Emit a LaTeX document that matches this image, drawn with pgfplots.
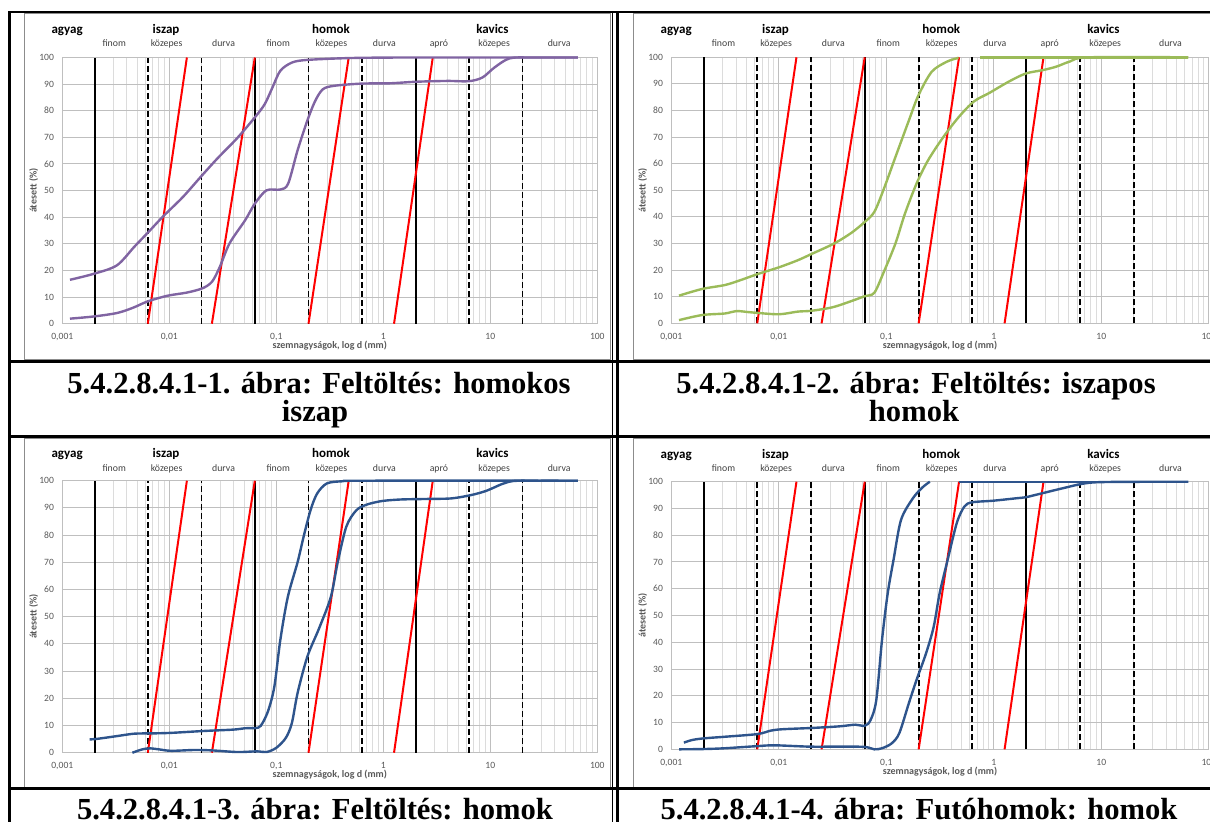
\documentclass[border=0pt]{standalone}
\usepackage{pgfplots}
\pgfplotsset{compat=1.18}
\usepackage{fontspec}
\setmainfont{Liberation Serif}
\newfontfamily\chartfont{Carlito}

\definecolor{gridmajor}{RGB}{191,191,191}
\definecolor{gridminor}{RGB}{220,220,220}
\definecolor{framegray}{RGB}{140,140,140}
\definecolor{labelgray}{RGB}{89,89,89}
\definecolor{subgray}{RGB}{64,64,64}
\definecolor{curvepurple}{RGB}{128,100,162}
\definecolor{curvegreen}{RGB}{155,187,89}
\definecolor{curveblue}{RGB}{46,84,140}

\newcommand{\grpfont}{\chartfont\bfseries\fontsize{6.5pt}{7pt}\selectfont}
\newcommand{\subfont}{\chartfont\fontsize{4.9pt}{6pt}\selectfont}
\newcommand{\tickfont}{\chartfont\fontsize{4.8pt}{5.5pt}\selectfont}
\newcommand{\titlefont}{\chartfont\bfseries\fontsize{5pt}{6pt}\selectfont}
\newcommand{\capfont}{\bfseries\fontsize{15.3pt}{15.3pt}\selectfont}

% soil class boundaries and the reference lines of the fractions
\newcommand{\classlines}{%
  \addplot[black, line width=1pt] coordinates {(0.002,0) (0.002,100)};
  \addplot[black, line width=1pt] coordinates {(0.063,0) (0.063,100)};
  \addplot[black, line width=1pt] coordinates {(2,0) (2,100)};
  \addplot[black, line width=0.9pt, dash pattern=on 3pt off 1.5pt] coordinates {(0.0063,0) (0.0063,100)};
  \addplot[black, line width=0.9pt, dash pattern=on 3pt off 1.5pt] coordinates {(0.02,0) (0.02,100)};
  \addplot[black, line width=0.9pt, dash pattern=on 3pt off 1.5pt] coordinates {(0.2,0) (0.2,100)};
  \addplot[black, line width=0.9pt, dash pattern=on 3pt off 1.5pt] coordinates {(0.63,0) (0.63,100)};
  \addplot[black, line width=0.9pt, dash pattern=on 3pt off 1.5pt] coordinates {(6.3,0) (6.3,100)};
  \addplot[black, line width=0.9pt, dash pattern=on 3pt off 1.5pt] coordinates {(20,0) (20,100)};
  \addplot[red, line width=1pt] coordinates {(0.0063,0) (0.0146,100)};
  \addplot[red, line width=1pt] coordinates {(0.025,0) (0.063,100)};
  \addplot[red, line width=1pt] coordinates {(0.2,0) (0.475,100)};
  \addplot[red, line width=1pt] coordinates {(1.26,0) (2.9,100)};
}

% fraction names above the plot area
\newcommand{\zonelabels}[2]{%
  \node[anchor=base, inner sep=0pt, font=\grpfont, yshift=#1] at (rel axis cs:0.009,1) {agyag};
  \node[anchor=base, inner sep=0pt, font=\grpfont, yshift=#1] at (rel axis cs:0.194,1) {iszap};
  \node[anchor=base, inner sep=0pt, font=\grpfont, yshift=#1] at (rel axis cs:0.5024,1) {homok};
  \node[anchor=base, inner sep=0pt, font=\grpfont, yshift=#1] at (rel axis cs:0.804,1) {kavics};
  \node[anchor=base, inner sep=0pt, font=\subfont, text=subgray, yshift=#2] at (rel axis cs:0.097,1) {finom};
  \node[anchor=base, inner sep=0pt, font=\subfont, text=subgray, yshift=#2] at (rel axis cs:0.195,1) {közepes};
  \node[anchor=base, inner sep=0pt, font=\subfont, text=subgray, yshift=#2] at (rel axis cs:0.3014,1) {durva};
  \node[anchor=base, inner sep=0pt, font=\subfont, text=subgray, yshift=#2] at (rel axis cs:0.4036,1) {finom};
  \node[anchor=base, inner sep=0pt, font=\subfont, text=subgray, yshift=#2] at (rel axis cs:0.503,1) {közepes};
  \node[anchor=base, inner sep=0pt, font=\subfont, text=subgray, yshift=#2] at (rel axis cs:0.602,1) {durva};
  \node[anchor=base, inner sep=0pt, font=\subfont, text=subgray, yshift=#2] at (rel axis cs:0.704,1) {apró};
  \node[anchor=base, inner sep=0pt, font=\subfont, text=subgray, yshift=#2] at (rel axis cs:0.8072,1) {közepes};
  \node[anchor=base, inner sep=0pt, font=\subfont, text=subgray, yshift=#2] at (rel axis cs:0.9288,1) {durva};
}

\begin{document}
\begin{tikzpicture}
\useasboundingbox (0pt,0pt) rectangle (605pt,-410.5pt);
\clip (0pt,0pt) rectangle (605pt,-410.5pt);

% chart frames
\draw[framegray, line width=0.5pt] (12pt,-6.75pt) rectangle (305pt,-179.5pt);
\draw[framegray, line width=0.5pt] (316.5pt,-6.75pt) rectangle (615pt,-179.5pt);
\draw[framegray, line width=0.5pt] (12pt,-219.25pt) rectangle (305pt,-393.5pt);
\draw[framegray, line width=0.5pt] (316.5pt,-219.25pt) rectangle (615pt,-393.5pt);

% 1: homokos iszap
\begin{axis}[at={(31.15pt,-161.85pt)}, anchor=south west, width=267.5pt, height=133.1pt,
    scale only axis, xmode=log, xmin=0.001, xmax=100, ymin=0, ymax=100,
    xtick={0.001,0.01,0.1,1,10,100}, xticklabels={{0,001},{0,01},{0,1},1,10,100},
    minor xtick={0.002,0.003,0.004,0.005,0.006,0.007,0.008,0.009,0.02,0.03,0.04,0.05,0.06,0.07,0.08,0.09,0.2,0.3,0.4,0.5,0.6,0.7,0.8,0.9,2,3,4,5,6,7,8,9,20,30,40,50,60,70,80,90},
    ytick={0,10,20,30,40,50,60,70,80,90,100}, yticklabels={0,10,20,30,40,50,60,70,80,90,100},
    grid=both, major grid style={draw=gridmajor, line width=0.5pt},
    minor grid style={draw=gridminor, line width=0.5pt},
    axis line style={draw=gridmajor, line width=0.5pt},
    major tick length=0pt, minor tick length=0pt,
    tick label style={font=\tickfont, text=labelgray},
    xticklabel style={anchor=base, yshift=-8pt, inner sep=0pt},
    yticklabel style={anchor=east, xshift=-4pt, inner sep=0pt},
    xlabel={szemnagyságok, log d (mm)}, ylabel={átesett (\%)},
    xlabel style={font=\titlefont, text=labelgray, at={(axis description cs:0.5,0)}, anchor=base, yshift=-12.4pt, inner sep=0pt},
    ylabel style={font=\titlefont, text=labelgray, at={(axis description cs:-0.0535,0.5)}, anchor=center, inner sep=0pt},
    clip=false]
\classlines
\addplot[curvepurple, line width=1.2pt, smooth] coordinates {
 (0.00118,16.5) (0.00195,18.7) (0.00323,21.9) (0.00471,28.9) (0.0063,34.2)
 (0.0088,40.4) (0.0134,47.6) (0.0199,55.4) (0.0285,62.3) (0.0433,69.8)
 (0.063,77.5) (0.078,82.5) (0.092,88.7) (0.109,95) (0.14,98.1) (0.195,99.1)
 (0.49,99.8) (1.5,100) (10,100) (65.8,100)};
\addplot[curvepurple, line width=1.2pt, smooth] coordinates {
 (0.00118,1.9) (0.00195,2.7) (0.00323,4.0) (0.00452,5.9) (0.0063,8.4)
 (0.0096,10.5) (0.0146,11.7) (0.0204,13.3) (0.0251,15.8) (0.0297,21.4)
 (0.0366,30.2) (0.0512,38.9) (0.063,45.1) (0.081,50.1) (0.109,50.4)
 (0.129,52.6) (0.158,65.1) (0.195,76.3) (0.231,83.7) (0.273,88.1)
 (0.351,89.4) (0.63,90.2) (1.135,90.3) (2.04,90.9) (3.98,91.2) (6.3,91.1)
 (8.45,92.5) (10.9,96.2) (15.2,99.7) (25,100) (65.8,100)};
\zonelabels{11.9pt}{5.5pt}
\end{axis}

% 2: iszapos homok
\begin{axis}[at={(335.65pt,-161.65pt)}, anchor=south west, width=268.75pt, height=133pt,
    scale only axis, xmode=log, xmin=0.001, xmax=100, ymin=0, ymax=100,
    xtick={0.001,0.01,0.1,1,10,100}, xticklabels={{0,001},{0,01},{0,1},1,10,100},
    minor xtick={0.002,0.003,0.004,0.005,0.006,0.007,0.008,0.009,0.02,0.03,0.04,0.05,0.06,0.07,0.08,0.09,0.2,0.3,0.4,0.5,0.6,0.7,0.8,0.9,2,3,4,5,6,7,8,9,20,30,40,50,60,70,80,90},
    ytick={0,10,20,30,40,50,60,70,80,90,100}, yticklabels={0,10,20,30,40,50,60,70,80,90,100},
    grid=both, major grid style={draw=gridmajor, line width=0.5pt},
    minor grid style={draw=gridminor, line width=0.5pt},
    axis line style={draw=gridmajor, line width=0.5pt},
    major tick length=0pt, minor tick length=0pt,
    tick label style={font=\tickfont, text=labelgray},
    xticklabel style={anchor=base, yshift=-8pt, inner sep=0pt},
    yticklabel style={anchor=east, xshift=-4pt, inner sep=0pt},
    xlabel={szemnagyságok, log d (mm)}, ylabel={átesett (\%)},
    xlabel style={font=\titlefont, text=labelgray, at={(axis description cs:0.5,0)}, anchor=base, yshift=-12.4pt, inner sep=0pt},
    ylabel style={font=\titlefont, text=labelgray, at={(axis description cs:-0.0535,0.5)}, anchor=center, inner sep=0pt},
    clip=false]
\classlines
\addplot[curvegreen, line width=1.2pt, smooth] coordinates {
 (0.00118,10.4) (0.00193,12.9) (0.00316,14.4) (0.00438,16.2) (0.00634,18.5)
 (0.00995,21) (0.015,23.7) (0.02,26) (0.0327,30) (0.0473,34) (0.063,38.1)
 (0.0774,41.9) (0.095,50.6) (0.1216,62.5) (0.162,76.2) (0.199,85.7)
 (0.265,94.6) (0.368,98.4) (0.47,99.8)};
\addplot[curvegreen, line width=1.2pt] coordinates {(0.75,100) (64,100)};
\addplot[curvegreen, line width=1.2pt, smooth] coordinates {
 (0.00118,1.2) (0.00193,3.1) (0.00316,3.7) (0.00404,4.6) (0.0056,4.1)
 (0.00995,3.4) (0.015,4.4) (0.02,4.7) (0.0314,6) (0.0454,8.1) (0.063,10.2)
 (0.0774,11.5) (0.095,19.4) (0.1216,30) (0.149,41.2) (0.191,52.5)
 (0.244,61.2) (0.339,70) (0.471,77.5) (0.653,83.4) (0.908,86.6) (1.37,90.8)
 (1.98,93.9) (2.87,95.2) (3.82,96.5) (5.09,98.4) (7.66,100) (64.7,100)};
\zonelabels{11.9pt}{5.5pt}
\end{axis}

% 3: homok
\begin{axis}[at={(31.15pt,-376.35pt)}, anchor=south west, width=267.5pt, height=136pt,
    scale only axis, xmode=log, xmin=0.001, xmax=100, ymin=0, ymax=100,
    xtick={0.001,0.01,0.1,1,10,100}, xticklabels={{0,001},{0,01},{0,1},1,10,100},
    minor xtick={0.002,0.003,0.004,0.005,0.006,0.007,0.008,0.009,0.02,0.03,0.04,0.05,0.06,0.07,0.08,0.09,0.2,0.3,0.4,0.5,0.6,0.7,0.8,0.9,2,3,4,5,6,7,8,9,20,30,40,50,60,70,80,90},
    ytick={0,10,20,30,40,50,60,70,80,90,100}, yticklabels={0,10,20,30,40,50,60,70,80,90,100},
    grid=both, major grid style={draw=gridmajor, line width=0.5pt},
    minor grid style={draw=gridminor, line width=0.5pt},
    axis line style={draw=gridmajor, line width=0.5pt},
    major tick length=0pt, minor tick length=0pt,
    tick label style={font=\tickfont, text=labelgray},
    xticklabel style={anchor=base, yshift=-8pt, inner sep=0pt},
    yticklabel style={anchor=east, xshift=-4pt, inner sep=0pt},
    xlabel={szemnagyságok, log d (mm)}, ylabel={átesett (\%)},
    xlabel style={font=\titlefont, text=labelgray, at={(axis description cs:0.5,0)}, anchor=base, yshift=-12.4pt, inner sep=0pt},
    ylabel style={font=\titlefont, text=labelgray, at={(axis description cs:-0.0535,0.5)}, anchor=center, inner sep=0pt},
    clip=false]
\classlines
\addplot[curveblue, line width=1.2pt, smooth] coordinates {
 (0.0018,4.9) (0.00212,5.1) (0.00323,6.1) (0.00471,7.0) (0.00686,7.1)
 (0.0104,7.3) (0.0212,8.0) (0.0398,8.5) (0.0512,9.0) (0.0675,9.2)
 (0.0746,11) (0.0846,15.8) (0.096,24.4) (0.109,41.4) (0.128,57.2)
 (0.158,70) (0.18,79.4) (0.209,89.2) (0.241,95.3) (0.297,99) (0.415,99.8)
 (0.686,100) (65.8,100)};
\addplot[curveblue, line width=1.2pt, smooth] coordinates {
 (0.00452,0) (0.00556,1.2) (0.00658,1.6) (0.00811,1.2) (0.0104,0.7)
 (0.0172,1.0) (0.0251,0.85) (0.0433,0.25) (0.0658,0.5) (0.081,0.25)
 (0.1,1.8) (0.123,5.5) (0.14,11) (0.158,21.9) (0.195,35.3) (0.251,45.7)
 (0.323,57.2) (0.375,70) (0.451,83.1) (0.556,89) (0.686,91.1) (0.96,92.5)
 (1.46,93.1) (2.62,93.3) (4.33,93.5) (6.58,94.7) (9.2,96.3) (12.9,98.8)
 (16.5,99.9) (25,100) (65.8,100)};
\zonelabels{11.4pt}{4.8pt}
\end{axis}

% 4: futóhomok
\begin{axis}[at={(335.65pt,-374.65pt)}, anchor=south west, width=268.75pt, height=133.8pt,
    scale only axis, xmode=log, xmin=0.001, xmax=100, ymin=0, ymax=100,
    xtick={0.001,0.01,0.1,1,10,100}, xticklabels={{0,001},{0,01},{0,1},1,10,100},
    minor xtick={0.002,0.003,0.004,0.005,0.006,0.007,0.008,0.009,0.02,0.03,0.04,0.05,0.06,0.07,0.08,0.09,0.2,0.3,0.4,0.5,0.6,0.7,0.8,0.9,2,3,4,5,6,7,8,9,20,30,40,50,60,70,80,90},
    ytick={0,10,20,30,40,50,60,70,80,90,100}, yticklabels={0,10,20,30,40,50,60,70,80,90,100},
    grid=both, major grid style={draw=gridmajor, line width=0.5pt},
    minor grid style={draw=gridminor, line width=0.5pt},
    axis line style={draw=gridmajor, line width=0.5pt},
    major tick length=0pt, minor tick length=0pt,
    tick label style={font=\tickfont, text=labelgray},
    xticklabel style={anchor=base, yshift=-8pt, inner sep=0pt},
    yticklabel style={anchor=east, xshift=-4pt, inner sep=0pt},
    xlabel={szemnagyságok, log d (mm)}, ylabel={átesett (\%)},
    xlabel style={font=\titlefont, text=labelgray, at={(axis description cs:0.5,0)}, anchor=base, yshift=-12.4pt, inner sep=0pt},
    ylabel style={font=\titlefont, text=labelgray, at={(axis description cs:-0.0535,0.5)}, anchor=center, inner sep=0pt},
    clip=false]
\classlines
\addplot[curveblue, line width=1.2pt, smooth] coordinates {
 (0.00131,2.5) (0.00157,3.5) (0.00201,4.1) (0.00316,4.7) (0.00634,5.7)
 (0.00845,7) (0.0108,7.5) (0.0208,8) (0.037,8.6) (0.0514,9.2) (0.063,8.8)
 (0.0713,10.9) (0.0807,18.4) (0.0912,40.8) (0.103,58.2) (0.117,71)
 (0.137,85.7) (0.176,93.7) (0.216,97.8) (0.254,100)};
\addplot[curveblue, line width=1.2pt] coordinates {(0.47,100) (64.7,100)};
\addplot[curveblue, line width=1.2pt, smooth] coordinates {
 (0.00118,0) (0.002,0.1) (0.00316,0.4) (0.00634,1.2) (0.00916,1.5)
 (0.0192,1.0) (0.037,1.0) (0.063,0.9) (0.0774,0) (0.0912,0.4) (0.112,2.2)
 (0.132,6) (0.162,17.2) (0.191,25.9) (0.234,35.8) (0.276,45.8) (0.313,58.2)
 (0.368,70) (0.452,84.5) (0.532,90.7) (0.628,92.3) (0.986,92.9) (1.61,93.8)
 (1.98,94.2) (2.64,95.4) (4.32,97.5) (7.07,99.4) (11.6,99.9) (64.7,100)};
\zonelabels{11.7pt}{5pt}
\end{axis}

% table rules
\draw[black, line width=1.25pt] (4pt,-6pt) -- (615pt,-6pt);
\draw[black, line width=1.5pt] (4.75pt,-5.5pt) -- (4.75pt,-415pt);
\draw[black, line width=0.5pt] (306.25pt,-6pt) -- (306.25pt,-415pt);
\draw[black, line width=1.5pt] (308.5pt,-6pt) -- (308.5pt,-415pt);
\draw[black, line width=1.5pt] (4pt,-180.5pt) -- (615pt,-180.5pt);
\draw[black, line width=1.5pt] (4pt,-218.25pt) -- (615pt,-218.25pt);
\draw[black, line width=1.5pt] (4pt,-394.25pt) -- (615pt,-394.25pt);

% captions
\node[anchor=base, inner sep=0pt, font=\capfont] at (159.5pt,-196.5pt) {5.4.2.8.4.1-1. ábra: Feltöltés: homokos};
\node[anchor=base, inner sep=0pt, font=\capfont] at (157.5pt,-210.85pt) {iszap};
\node[anchor=base, inner sep=0pt, font=\capfont] at (458pt,-196.5pt) {5.4.2.8.4.1-2. ábra: Feltöltés: iszapos};
\node[anchor=base, inner sep=0pt, font=\capfont] at (457pt,-210.85pt) {homok};
\node[anchor=base, inner sep=0pt, font=\capfont] at (157.5pt,-409.65pt) {5.4.2.8.4.1-3. ábra: Feltöltés: homok};
\node[anchor=base, inner sep=0pt, font=\capfont] at (459.5pt,-409.65pt) {5.4.2.8.4.1-4. ábra: Futóhomok: homok};
\end{tikzpicture}
\end{document}
